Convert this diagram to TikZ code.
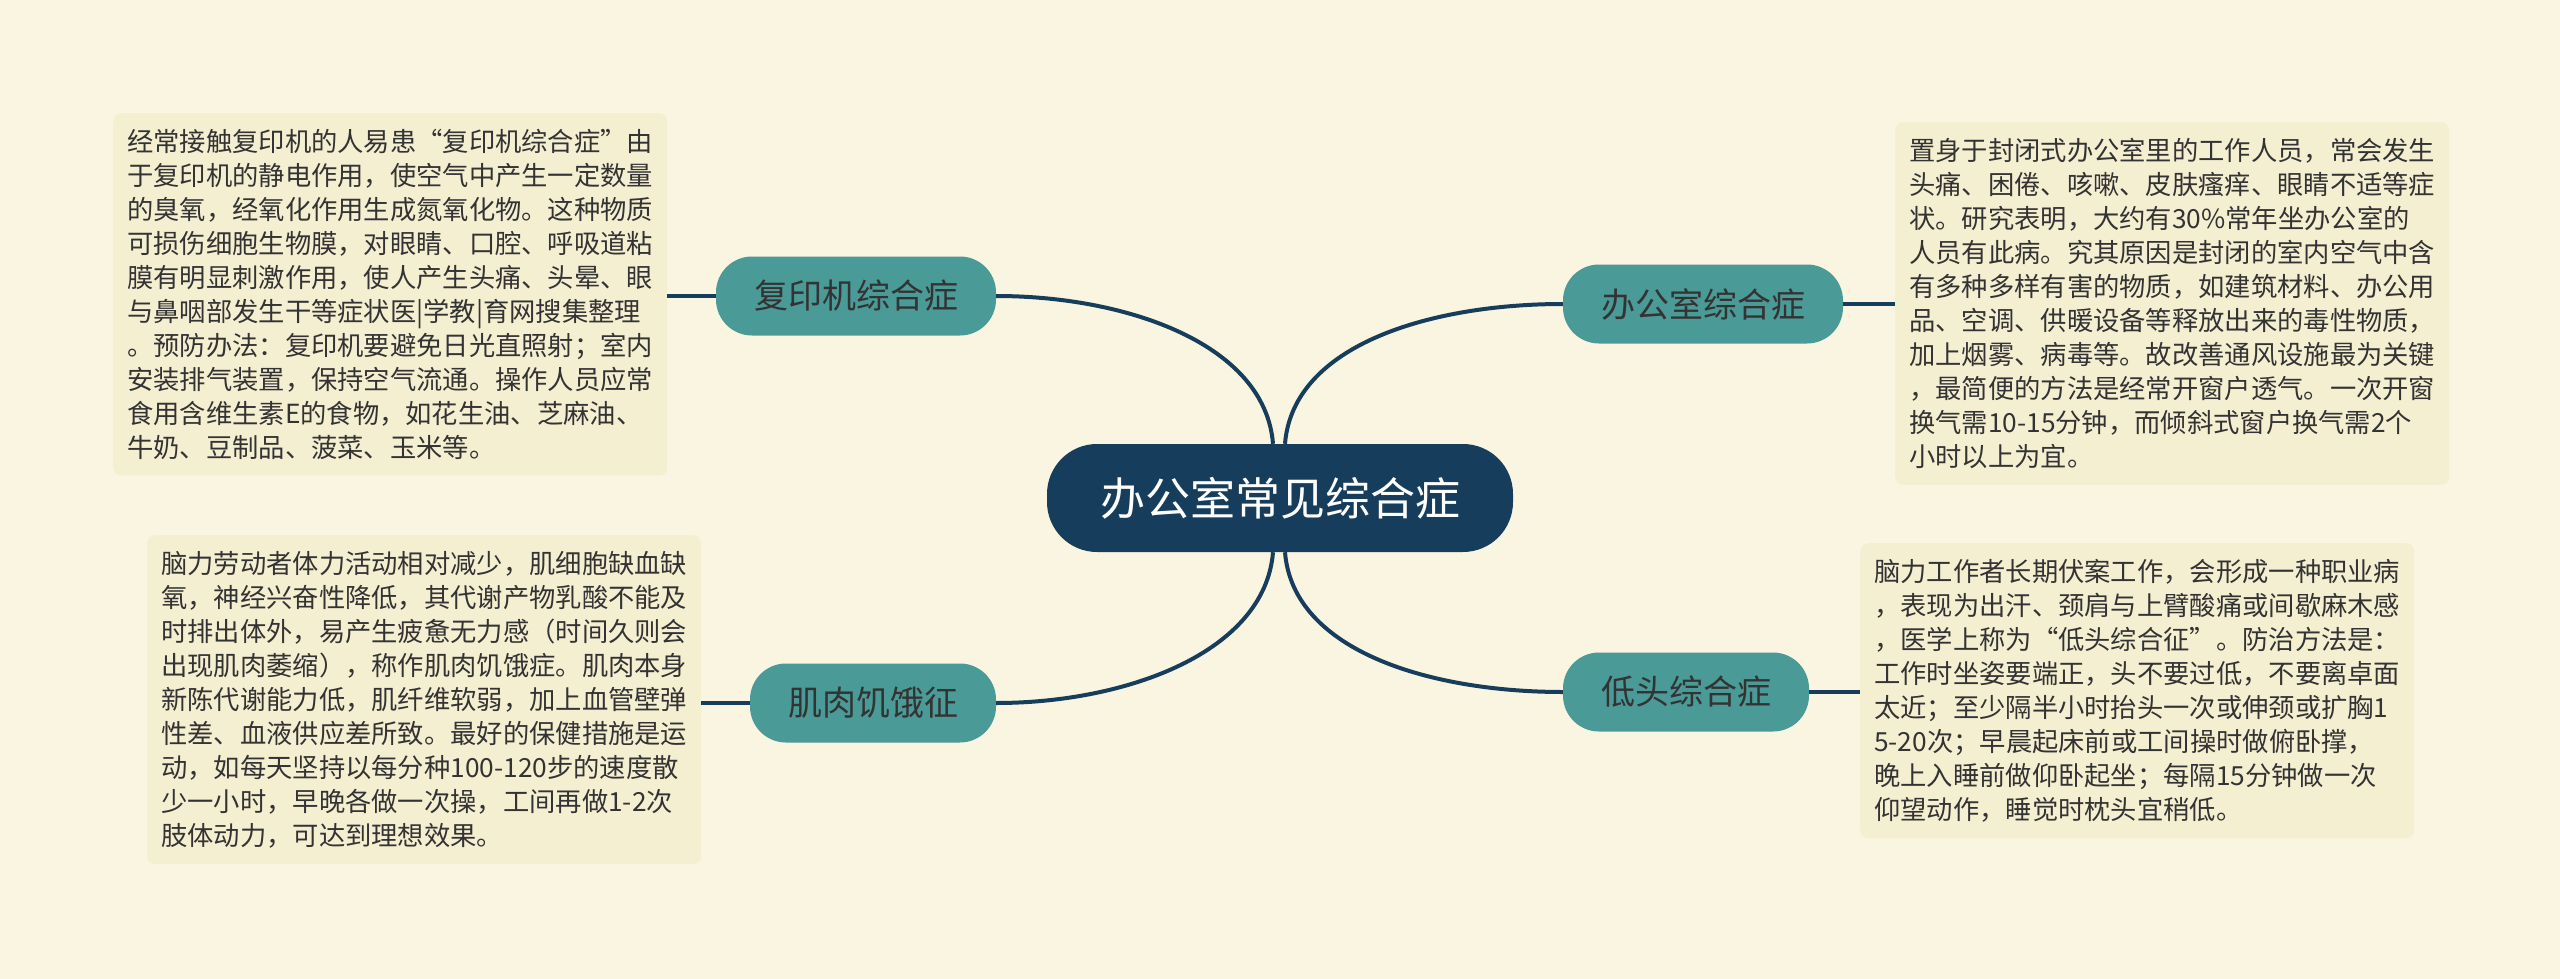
\documentclass[tikz,border=0pt]{standalone}
\usepackage{fontspec}
\newfontfamily\cjk{Noto Sans CJK SC}
\definecolor{bgcol}{HTML}{FAF5E1}
\definecolor{boxfill}{HTML}{F5EFD2}
\definecolor{branchteal}{HTML}{4A9A98}
\definecolor{navy}{HTML}{173D5C}
\definecolor{txt}{HTML}{333333}
\begin{document}
\begin{tikzpicture}[x=1pt,y=-1pt,
  rootnode/.style={fill=navy, text=white, rounded corners=50pt, minimum width=466pt, minimum height=108pt, inner sep=0pt, font=\cjk\fontsize{45}{54}\selectfont},
  branchnode/.style={fill=branchteal, text=txt, rounded corners=36pt, minimum height=79pt, inner xsep=38pt, inner ysep=0pt, font=\cjk\fontsize{34}{40}\selectfont},
  infobox/.style={fill=boxfill, rounded corners=8pt, text=txt, align=left, text width=526pt, inner xsep=14pt, inner ysep=16pt, anchor=north west, font=\cjk\fontsize{26.3}{34}\selectfont},
  conn/.style={draw=navy, line width=4pt}]
\fill[bgcol] (0,0) rectangle (2560,979);
\useasboundingbox (0,0) rectangle (2560,979);

\node[rootnode] (c) at (1280,498) {办公室常见综合症};
\node[branchnode] (b1) at (856,296) {复印机综合症};
\node[branchnode] (b2) at (1703,304) {办公室综合症};
\node[branchnode] (b3) at (873,703) {肌肉饥饿征};
\node[branchnode] (b4) at (1686,692) {低头综合症};

\node[infobox] (t1) at (113,113) {经常接触复印机的人易患“复印机综合症”由\\
于复印机的静电作用，使空气中产生一定数量\\
的臭氧，经氧化作用生成氮氧化物。这种物质\\
可损伤细胞生物膜，对眼睛、口腔、呼吸道粘\\
膜有明显刺激作用，使人产生头痛、头晕、眼\\
与鼻咽部发生干等症状医|学教|育网搜集整理\\
。预防办法：复印机要避免日光直照射；室内\\
安装排气装置，保持空气流通。操作人员应常\\
食用含维生素E的食物，如花生油、芝麻油、\\
牛奶、豆制品、菠菜、玉米等。};

\node[infobox] (t2) at (1895,122) {置身于封闭式办公室里的工作人员，常会发生\\
头痛、困倦、咳嗽、皮肤瘙痒、眼睛不适等症\\
状。研究表明，大约有30\%常年坐办公室的\\
人员有此病。究其原因是封闭的室内空气中含\\
有多种多样有害的物质，如建筑材料、办公用\\
品、空调、供暖设备等释放出来的毒性物质，\\
加上烟雾、病毒等。故改善通风设施最为关键\\
，最简便的方法是经常开窗户透气。一次开窗\\
换气需10-15分钟，而倾斜式窗户换气需2个\\
小时以上为宜。};

\node[infobox] (t3) at (147,535) {脑力劳动者体力活动相对减少，肌细胞缺血缺\\
氧，神经兴奋性降低，其代谢产物乳酸不能及\\
时排出体外，易产生疲惫无力感（时间久则会\\
出现肌肉萎缩），称作肌肉饥饿症。肌肉本身\\
新陈代谢能力低，肌纤维软弱，加上血管壁弹\\
性差、血液供应差所致。最好的保健措施是运\\
动，如每天坚持以每分种100-120步的速度散\\
少一小时，早晚各做一次操，工间再做1-2次\\
肢体动力，可达到理想效果。};

\node[infobox] (t4) at (1860,543) {脑力工作者长期伏案工作，会形成一种职业病\\
，表现为出汗、颈肩与上臂酸痛或间歇麻木感\\
，医学上称为“低头综合征”。防治方法是：\\
工作时坐姿要端正，头不要过低，不要离卓面\\
太近；至少隔半小时抬头一次或伸颈或扩胸1\\
5-20次；早晨起床前或工间操时做俯卧撑，\\
晚上入睡前做仰卧起坐；每隔15分钟做一次\\
仰望动作，睡觉时枕头宜稍低。};

\draw[conn] (b1.east) .. controls +(130,0) and +(-8,-100) .. ([xshift=-7pt]c.north);
\draw[conn] (b2.west) .. controls +(-130,0) and +(8,-100) .. ([xshift=5pt]c.north);
\draw[conn] (b3.east) .. controls +(130,0) and +(-8,100) .. ([xshift=-7pt]c.south);
\draw[conn] (b4.west) .. controls +(-130,0) and +(8,100) .. ([xshift=5pt]c.south);

\draw[conn] (b1.west) -- (b1.west -| t1.east);
\draw[conn] (b2.east) -- (b2.east -| t2.west);
\draw[conn] (b3.west) -- (b3.west -| t3.east);
\draw[conn] (b4.east) -- (b4.east -| t4.west);
\end{tikzpicture}
\end{document}
